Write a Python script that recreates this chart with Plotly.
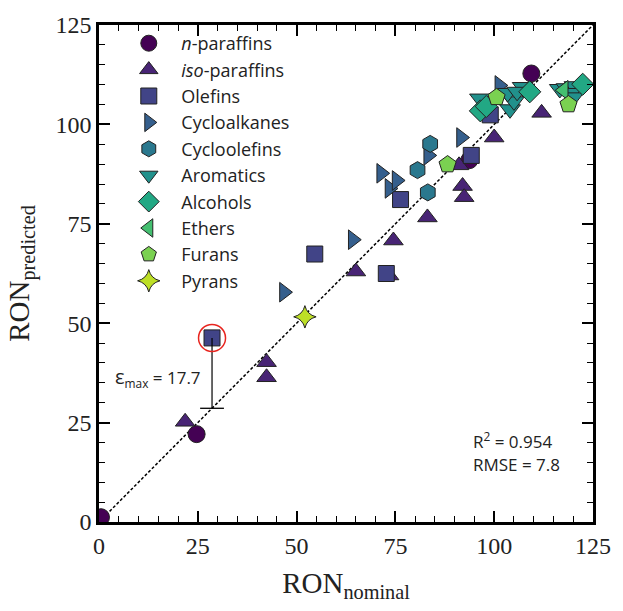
import plotly.graph_objects as go
import numpy as np

# ---- data (RON nominal, RON predicted) ----
categories = ["<i>n</i>-paraffins", "<i>iso</i>-paraffins", "Olefins", "Cycloalkanes",
              "Cycloolefins", "Aromatics", "Alcohols", "Ethers", "Furans", "Pyrans"]

n_par_x = [0.5, 24.7, 93.7, 109.4]
n_par_y = [1.2, 22.1, 91.0, 112.8]

iso_par_x = [21.8, 42.4, 42.4, 65.0, 74.5, 73.4, 83.1, 91.1, 92.0, 92.4, 100.0, 112.0]
iso_par_y = [25.2, 40.2, 36.4, 63.0, 70.8, 62.0, 76.6, 89.7, 84.5, 81.7, 96.7, 102.9]

olef_x = [28.6, 54.6, 72.7, 76.3, 94.2, 99.0]
olef_y = [46.3, 67.4, 62.5, 81.1, 92.2, 102.4]

cycalk_x = [46.8, 64.2, 71.4, 73.5, 75.3, 83.3, 91.6, 101.3]
cycalk_y = [57.8, 71.0, 87.7, 83.9, 85.9, 92.2, 96.7, 109.8]

cycole_x = [83.8, 80.6, 83.2]
cycole_y = [95.1, 88.5, 82.9]

arom_x = [96.4, 104.0, 105.0, 103.4, 107.2, 105.8, 116.6, 118.3, 120.3, 119.5, 120.0]
arom_y = [106.5, 103.8, 105.8, 107.9, 109.4, 108.2, 108.9, 109.1, 109.6, 107.9, 106.8]

alc_x = [96.5, 98.0, 109.0, 122.4]
alc_y = [103.4, 104.5, 108.2, 110.1]

eth_x = [117.6]
eth_y = [108.6]

fur_x = [88.2, 100.6, 118.8]
fur_y = [89.9, 106.8, 105.0]

pyr_x = [52.1]
pyr_y = [51.6]

r2_text = "R<sup>2</sup> = 0.954"
rmse_text = "RMSE = 7.8"

series = [
    (n_par_x, n_par_y, "circle", "#440154", 17),
    (iso_par_x, iso_par_y, "triangle-up", "#482475", 17),
    (olef_x, olef_y, "square", "#414487", 16),
    (cycalk_x, cycalk_y, "triangle-right", "#355f8d", 17),
    (cycole_x, cycole_y, "hexagon", "#2a788e", 17),
    (arom_x, arom_y, "triangle-down", "#21918c", 18),
    (alc_x, alc_y, "diamond", "#22a884", 17),
    (eth_x, eth_y, "triangle-left", "#44bf70", 17),
    (fur_x, fur_y, "pentagon", "#7ad151", 18),
    (pyr_x, pyr_y, "star-diamond", "#bddf26", 16),
]

SANS = "Open Sans"
SERIF = "Liberation Serif"

fig = go.Figure()

# parity line
fig.add_trace(go.Scatter(x=[0, 125], y=[0, 125], mode="lines",
                         line=dict(color="black", width=1.5, dash="3px,2px"),
                         showlegend=False, hoverinfo="skip"))

for name, (xs, ys, sym, col, sz) in zip(categories, series):
    fig.add_trace(go.Scatter(x=xs, y=ys, mode="markers", name=name,
                             marker=dict(symbol=sym, color=col, size=sz,
                                         line=dict(color="#222222", width=1))))

# maximum error point
all_x = np.concatenate([np.array(s[0], float) for s in series])
all_y = np.concatenate([np.array(s[1], float) for s in series])
err = np.abs(all_y - all_x)
i = int(np.argmax(err))
mx, my, me = all_x[i], all_y[i], err[i]

fig.add_trace(go.Scatter(x=[mx, mx], y=[my, mx], mode="lines",
                         line=dict(color="black", width=1.2),
                         showlegend=False, hoverinfo="skip"))
fig.add_trace(go.Scatter(x=[mx], y=[mx], mode="markers",
                         marker=dict(symbol="line-ew-open", size=17, color="black",
                                     line=dict(color="black", width=1.3)),
                         showlegend=False, hoverinfo="skip"))
fig.add_trace(go.Scatter(x=[mx], y=[my], mode="markers",
                         marker=dict(symbol="circle-open", size=27, color="#e8251f",
                                     line=dict(color="#e8251f", width=1.5)),
                         showlegend=False, hoverinfo="skip"))

fig.add_annotation(x=mx - 2.4, y=(my + mx) / 2 - 1, xref="x", yref="y",
                   text="<span style='font-size:20px'>ε</span><sub>max</sub> = %.1f" % me,
                   showarrow=False, xanchor="right", yanchor="middle",
                   font=dict(family=SANS, size=17, color="#222222"))

fig.add_annotation(x=94.2, y=20.6, xref="x", yref="y", text=r2_text,
                   showarrow=False, xanchor="left", yanchor="middle",
                   font=dict(family=SANS, size=17, color="#222222"))
fig.add_annotation(x=94.2, y=14.4, xref="x", yref="y", text=rmse_text,
                   showarrow=False, xanchor="left", yanchor="middle",
                   font=dict(family=SANS, size=17, color="#222222"))

axis_common = dict(range=[0, 125], tickmode="array", tickvals=[0, 25, 50, 75, 100, 125],
                   ticks="inside", ticklen=11, tickwidth=2, tickcolor="black",
                   showline=True, linecolor="black", linewidth=2.5, mirror="allticks",
                   showgrid=False, zeroline=False,
                   minor=dict(ticks="inside", ticklen=6, tickwidth=1.2, tickcolor="black",
                              dtick=5, tick0=0, showgrid=False),
                   tickfont=dict(family=SERIF, size=24, color="#222222"))

fig.update_xaxes(**axis_common,
                 title=dict(text="RON<sub>nominal</sub>",
                            font=dict(family=SERIF, size=29, color="#222222"),
                            standoff=16))
fig.update_yaxes(**axis_common,
                 title=dict(text="RON<sub>predicted</sub>",
                            font=dict(family=SERIF, size=29, color="#222222"),
                            standoff=18))

fig.update_layout(
    width=623, height=611,
    margin=dict(l=99, r=20, t=19, b=89),
    plot_bgcolor="white", paper_bgcolor="white",
    legend=dict(x=0.035, y=1.0, xanchor="left", yanchor="top",
                bgcolor="rgba(0,0,0,0)", borderwidth=0,
                font=dict(family=SANS, size=18, color="#222222"),
                itemwidth=55, itemsizing="trace"),
)

fig.write_html("out.html")
